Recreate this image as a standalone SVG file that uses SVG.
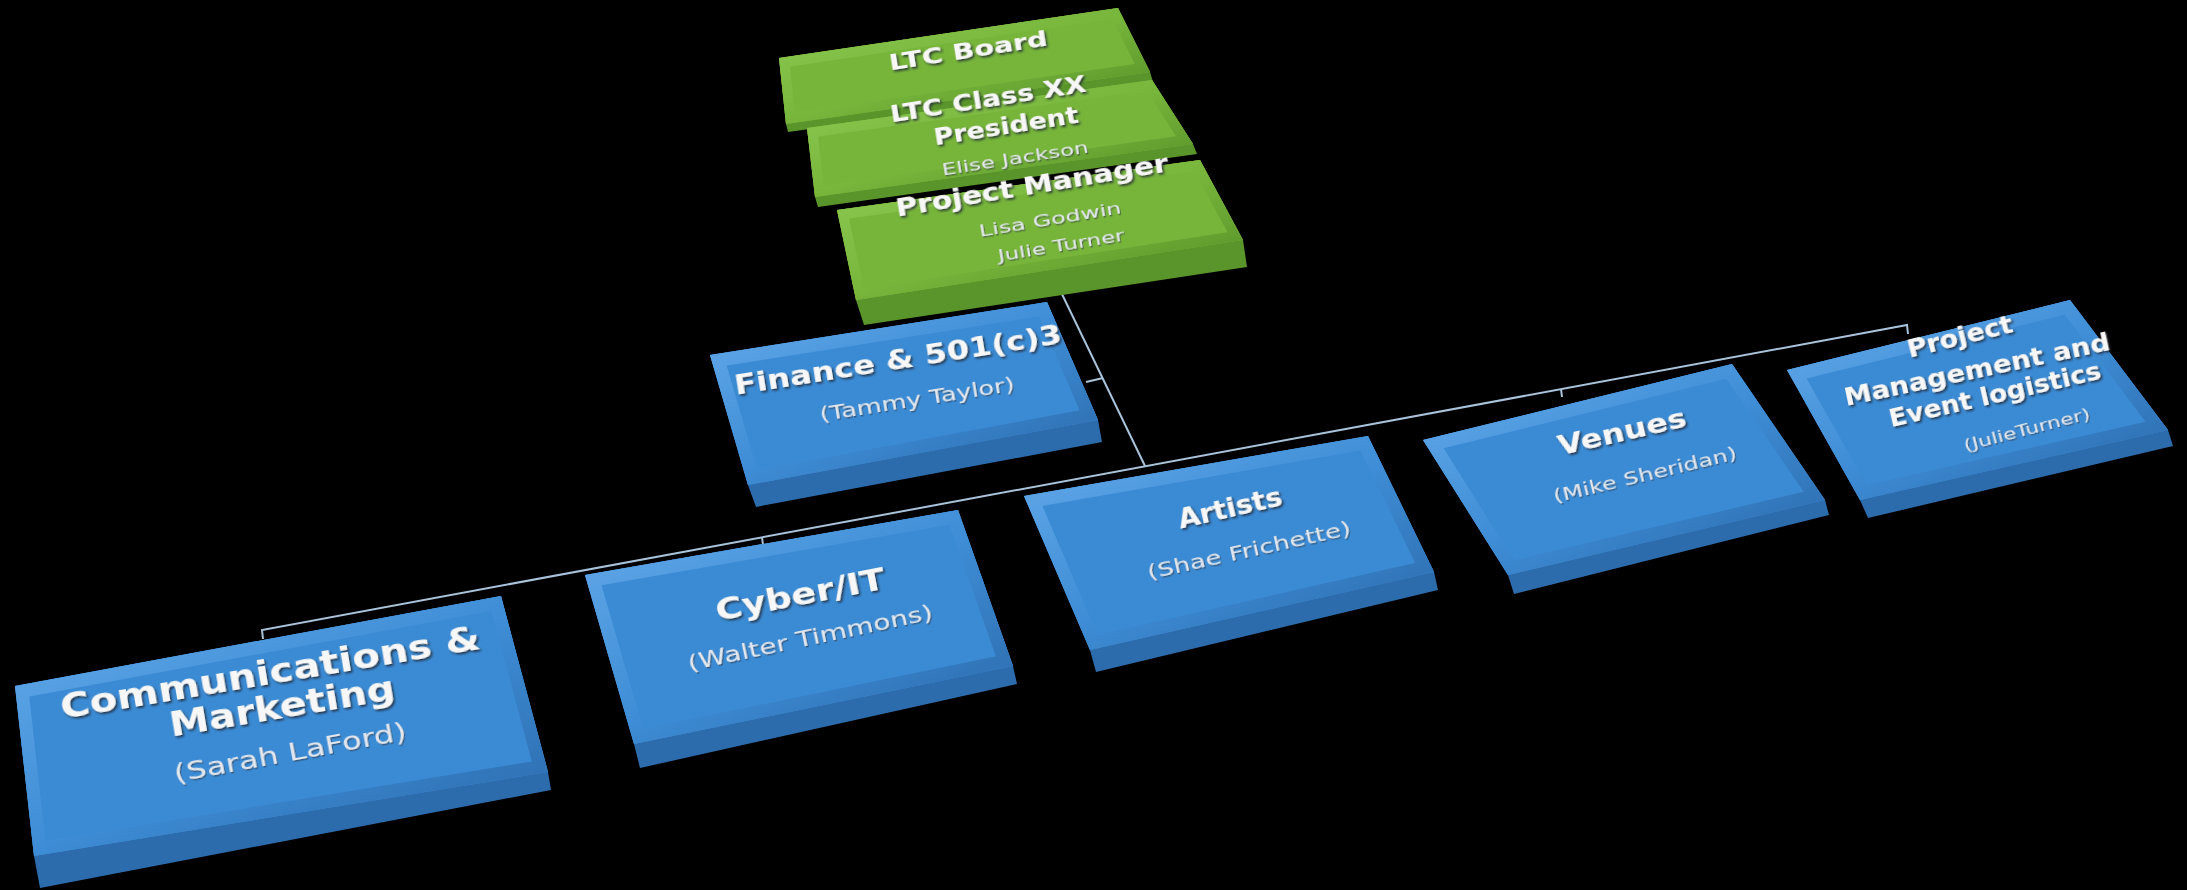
<svg xmlns="http://www.w3.org/2000/svg" xmlns:xlink="http://www.w3.org/1999/xlink" width="2187" height="890" viewBox="0 0 2187 890">
<style>
.bside{fill:#2d6cac}
.btop{fill:#3b8bd4}
.bbev{fill:none;stroke:url(#bbevg);stroke-width:26}
.gside{fill:#5a952c}
.gtop{fill:#76b43a}
.gbev{fill:none;stroke:url(#gbevg);stroke-width:20}
.c{fill:none;stroke:#a9c3db;stroke-width:2}
.t{font-family:"DejaVu Sans","Liberation Sans",sans-serif;font-weight:bold;fill:#f7f7f7;text-anchor:middle;filter:url(#sh)}
.n{font-family:"DejaVu Sans","Liberation Sans",sans-serif;font-weight:normal;fill:#e4e8ee;text-anchor:middle;filter:url(#sh2)}
</style>
<defs>
<linearGradient id="bbevg" x1="0" y1="0" x2="1" y2="1">
<stop offset="0" stop-color="#66abea"/><stop offset="0.5" stop-color="#3e8dd6"/><stop offset="1" stop-color="#2a66a6"/>
</linearGradient>
<linearGradient id="gbevg" x1="0" y1="0" x2="1" y2="1">
<stop offset="0" stop-color="#8fcc55"/><stop offset="0.5" stop-color="#77b53b"/><stop offset="1" stop-color="#4f8a24"/>
</linearGradient>
<filter id="sh" x="-10%" y="-40%" width="120%" height="180%"><feDropShadow dx="1.5" dy="2" stdDeviation="0.8" flood-color="#1b2633" flood-opacity="0.85"/></filter>
<filter id="sh2" x="-10%" y="-40%" width="120%" height="180%"><feDropShadow dx="1" dy="1.5" stdDeviation="0.6" flood-color="#2a3440" flood-opacity="0.6"/></filter>
<polygon id="p-comm" points="15,686 501,596 548,772 34,856"/>
<polygon id="p-cyber" points="585,575 958,510 1013,666 634,744"/>
<polygon id="p-art" points="1024,496 1368,436 1434,572 1090,650"/>
<polygon id="p-fin" points="710,355 1047,302 1098,420 748,485"/>
<polygon id="p-ven" points="1423,440 1732,364 1825,500 1508,575"/>
<polygon id="p-pm" points="1787,370 2070,300 2168,430 1860,500"/>
<polygon id="p-g1" points="779,58 1118,8 1150,72 786,124"/>
<polygon id="p-g2" points="807,128 1152,80 1193,144 815,197"/>
<polygon id="p-g3" points="837,210 1200,160 1243,240 856,300"/>
<clipPath id="c-comm"><use xlink:href="#p-comm"/></clipPath>
<clipPath id="c-cyber"><use xlink:href="#p-cyber"/></clipPath>
<clipPath id="c-art"><use xlink:href="#p-art"/></clipPath>
<clipPath id="c-fin"><use xlink:href="#p-fin"/></clipPath>
<clipPath id="c-ven"><use xlink:href="#p-ven"/></clipPath>
<clipPath id="c-pm"><use xlink:href="#p-pm"/></clipPath>
<clipPath id="c-g1"><use xlink:href="#p-g1"/></clipPath>
<clipPath id="c-g2"><use xlink:href="#p-g2"/></clipPath>
<clipPath id="c-g3"><use xlink:href="#p-g3"/></clipPath>
</defs>
<rect width="2187" height="890" fill="#000"/>

<g id="connectors">
<path class="c" d="M1060,290 L1145,466"/>
<path class="c" d="M1086,382 L1103,378"/>
<path class="c" d="M263,639 L262,630 L1907,325 L1908,334"/>
<path class="c" d="M762,537 L763,545"/>
<path class="c" d="M1561,389 L1562,397"/>
</g>

<g id="node-ltc-board">
<polygon class="gside" points="779,58 1118,8 1150,72 1153,82 788,132 786,124"/>
<use xlink:href="#p-g1" class="gtop"/>
<use xlink:href="#p-g1" class="gbev" clip-path="url(#c-g1)"/>
<text class="t" font-size="22" textLength="160" lengthAdjust="spacingAndGlyphs" dy=".35em" transform="translate(968 50) rotate(-9)">LTC Board</text>
</g>

<g id="node-president">
<polygon class="gside" points="807,128 1152,80 1193,144 1197,154 818,207 815,197"/>
<use xlink:href="#p-g2" class="gtop"/>
<use xlink:href="#p-g2" class="gbev" clip-path="url(#c-g2)"/>
<text class="t" font-size="23" textLength="198" lengthAdjust="spacingAndGlyphs" dy=".35em" transform="translate(988 99) rotate(-9)">LTC Class XX</text>
<text class="t" font-size="23" textLength="146" lengthAdjust="spacingAndGlyphs" dy=".35em" transform="translate(1006 126) rotate(-9)">President</text>
<text class="n" font-size="16" textLength="148" lengthAdjust="spacingAndGlyphs" dy=".35em" transform="translate(1015 158) rotate(-9)">Elise Jackson</text>
</g>

<g id="node-project-manager">
<polygon class="gside" points="837,210 1200,160 1243,240 1247,267 864,325 856,300"/>
<use xlink:href="#p-g3" class="gtop"/>
<use xlink:href="#p-g3" class="gbev" clip-path="url(#c-g3)"/>
<text class="t" font-size="24" textLength="276" lengthAdjust="spacingAndGlyphs" dy=".35em" transform="translate(1032 186) rotate(-9.5)">Project Manager</text>
<text class="n" font-size="16" textLength="144" lengthAdjust="spacingAndGlyphs" dy=".35em" transform="translate(1050 219) rotate(-9.5)">Lisa Godwin</text>
<text class="n" font-size="16" textLength="128" lengthAdjust="spacingAndGlyphs" dy=".35em" transform="translate(1061 245) rotate(-9.5)">Julie Turner</text>
</g>

<g id="node-finance">
<polygon class="bside" points="710,355 1047,302 1098,420 1102,442 756,507 748,485"/>
<use xlink:href="#p-fin" class="btop"/>
<use xlink:href="#p-fin" class="bbev" clip-path="url(#c-fin)"/>
<text class="t" font-size="27" textLength="331" lengthAdjust="spacingAndGlyphs" dy=".35em" transform="translate(898 360) rotate(-9)">Finance &amp; 501(c)3</text>
<text class="n" font-size="20" textLength="197" lengthAdjust="spacingAndGlyphs" dy=".35em" transform="translate(917 399) rotate(-9)">(Tammy Taylor)</text>
</g>

<g id="node-communications">
<polygon class="bside" points="15,686 501,596 548,772 551,790 40,888 34,856"/>
<use xlink:href="#p-comm" class="btop"/>
<use xlink:href="#p-comm" class="bbev" clip-path="url(#c-comm)"/>
<text class="t" font-size="33" textLength="425" lengthAdjust="spacingAndGlyphs" dy=".35em" transform="translate(270 672) rotate(-9.5)">Communications &amp;</text>
<text class="t" font-size="33" textLength="228" lengthAdjust="spacingAndGlyphs" dy=".35em" transform="translate(282 706) rotate(-9.5)">Marketing</text>
<text class="n" font-size="25" textLength="236" lengthAdjust="spacingAndGlyphs" dy=".35em" transform="translate(290 752) rotate(-10.5)">(Sarah LaFord)</text>
</g>

<g id="node-cyber">
<polygon class="bside" points="585,575 958,510 1013,666 1017,684 640,768 634,744"/>
<use xlink:href="#p-cyber" class="btop"/>
<use xlink:href="#p-cyber" class="bbev" clip-path="url(#c-cyber)"/>
<text class="t" font-size="31" textLength="172" lengthAdjust="spacingAndGlyphs" dy=".35em" transform="translate(800 594) rotate(-11)">Cyber/IT</text>
<text class="n" font-size="22" textLength="250" lengthAdjust="spacingAndGlyphs" dy=".35em" transform="translate(810 637) rotate(-12)">(Walter Timmons)</text>
</g>

<g id="node-artists">
<polygon class="bside" points="1024,496 1368,436 1434,572 1438,590 1096,672 1090,650"/>
<use xlink:href="#p-art" class="btop"/>
<use xlink:href="#p-art" class="bbev" clip-path="url(#c-art)"/>
<text class="t" font-size="27" textLength="106" lengthAdjust="spacingAndGlyphs" dy=".35em" transform="translate(1230 508) rotate(-13)">Artists</text>
<text class="n" font-size="20" textLength="208" lengthAdjust="spacingAndGlyphs" dy=".35em" transform="translate(1249 550) rotate(-12.5)">(Shae Frichette)</text>
</g>

<g id="node-venues">
<polygon class="bside" points="1423,440 1732,364 1825,500 1829,515 1514,594 1508,575"/>
<use xlink:href="#p-ven" class="btop"/>
<use xlink:href="#p-ven" class="bbev" clip-path="url(#c-ven)"/>
<text class="t" font-size="27" textLength="131" lengthAdjust="spacingAndGlyphs" dy=".35em" transform="translate(1622 432) rotate(-13)">Venues</text>
<text class="n" font-size="18" textLength="188" lengthAdjust="spacingAndGlyphs" dy=".35em" transform="translate(1645 475) rotate(-13.5)">(Mike Sheridan)</text>
</g>

<g id="node-pm-event">
<polygon class="bside" points="1787,370 2070,300 2168,430 2173,446 1868,518 1860,500"/>
<use xlink:href="#p-pm" class="btop"/>
<use xlink:href="#p-pm" class="bbev" clip-path="url(#c-pm)"/>
<text class="t" font-size="24" textLength="108" lengthAdjust="spacingAndGlyphs" dy=".35em" transform="translate(1960 337) rotate(-14)">Project</text>
<text class="t" font-size="24" textLength="271" lengthAdjust="spacingAndGlyphs" dy=".35em" transform="translate(1977 370) rotate(-12)">Management and</text>
<text class="t" font-size="24" textLength="217" lengthAdjust="spacingAndGlyphs" dy=".35em" transform="translate(1995 395) rotate(-13)">Event logistics</text>
<text class="n" font-size="15" textLength="130" lengthAdjust="spacingAndGlyphs" dy=".35em" transform="translate(2027 430) rotate(-14.5)">(JulieTurner)</text>
</g>
</svg>
